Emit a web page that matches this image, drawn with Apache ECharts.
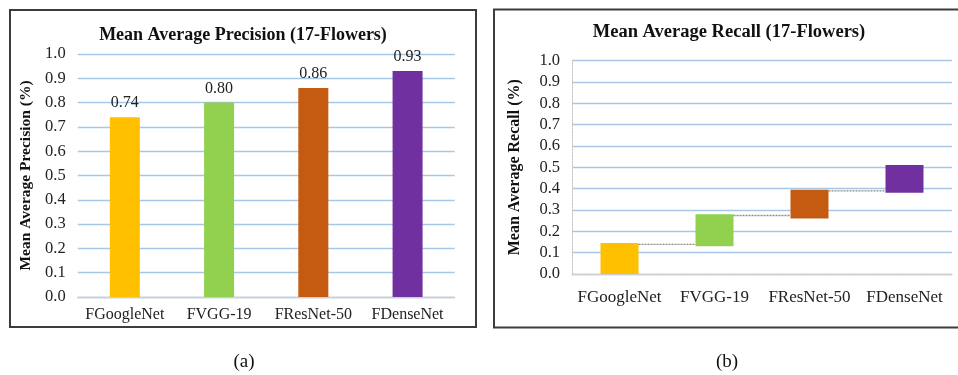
<!DOCTYPE html>
<html>
<head>
<meta charset="utf-8">
<script src="https://cdn.jsdelivr.net/npm/echarts@6/dist/echarts.min.js"></script>
<style>
  html, body { margin: 0; padding: 0; background: #fff; }
  #chart { width: 958px; height: 375px; }
</style>
</head>
<body>
<div id="chart"></div>
<script>
// Model names shared by both panels
const models = ['FGoogleNet', 'FVGG-19', 'FResNet-50', 'FDenseNet'];
const modelColors = ['#FFC000', '#92D050', '#C55A11', '#7030A0'];

// Panel (a): mean average precision per model
const precision = [0.74, 0.80, 0.86, 0.93];

// Panel (b): waterfall of mean average recall (floating base + visible step)
const recallBase = [0.00, 0.13, 0.26, 0.38];
const recallStep = [0.145, 0.15, 0.135, 0.13];

// Shared value-axis ticks
const yTicks = [0.0, 0.1, 0.2, 0.3, 0.4, 0.5, 0.6, 0.7, 0.8, 0.9, 1.0];

const recallTop = recallBase.map((b, i) => +(b + recallStep[i]).toFixed(3));

const SERIF = '"Liberation Serif", "Times New Roman", serif';
const GRID_BLUE = '#a7c7e7';

const chart = echarts.init(document.getElementById('chart'), null, { renderer: 'canvas' });

function valueAxis(gridIndex, name, nameGap, nameSize, labelSize, showAxisLine) {
  return {
    type: 'value',
    gridIndex: gridIndex,
    min: yTicks[0],
    max: yTicks[yTicks.length - 1],
    interval: 0.1,
    name: name,
    nameLocation: 'middle',
    nameGap: nameGap,
    nameTextStyle: { fontFamily: SERIF, fontWeight: 'bold', fontSize: nameSize, color: '#111' },
    axisLine: { show: showAxisLine, lineStyle: { color: '#c8c8c8', type: [2, 1], width: 1 } },
    axisTick: { show: false },
    axisLabel: {
      fontFamily: SERIF, fontSize: labelSize, color: '#222', margin: 12,
      formatter: v => v.toFixed(1)
    },
    splitLine: { show: true, lineStyle: { color: GRID_BLUE, width: 1.3 } }
  };
}

function categoryAxis(gridIndex, labelSize, margin, dashed) {
  return {
    type: 'category',
    gridIndex: gridIndex,
    data: models,
    axisLine: { show: true, lineStyle: { color: '#cfcfcf', width: 1.3, type: dashed ? [2, 1] : 'solid' } },
    axisTick: { show: false },
    axisLabel: { interval: 0, fontFamily: SERIF, fontSize: labelSize, color: '#222', margin: margin }
  };
}

const option = {
  animation: false,
  backgroundColor: '#fff',
  grid: [
    { left: 77.7, right: 503.3, top: 54, bottom: 78, containLabel: false },
    { left: 572, right: 6, top: 60.5, bottom: 101, containLabel: false }
  ],
  xAxis: [
    categoryAxis(0, 16, 10, false),
    categoryAxis(1, 17, 15, true)
  ],
  yAxis: [
    valueAxis(0, 'Mean Average Precision (%)', 44, 15.5, 16.5, false),
    valueAxis(1, 'Mean Average Recall (%)', 49, 16, 16.5, true)
  ],
  series: [
    {
      name: 'Mean Average Precision',
      type: 'bar',
      xAxisIndex: 0, yAxisIndex: 0,
      barWidth: 30,
      data: precision.map((v, i) => ({ value: v, itemStyle: { color: modelColors[i] } })),
      label: {
        show: true, position: 'top', distance: 6,
        fontFamily: SERIF, fontSize: 16, color: '#222',
        formatter: p => p.value.toFixed(2)
      },
      z: 3
    },
    {
      name: 'base',
      type: 'bar',
      stack: 'recall',
      xAxisIndex: 1, yAxisIndex: 1,
      barWidth: 38,
      itemStyle: { color: 'transparent' },
      data: recallBase,
      silent: true,
      z: 3
    },
    {
      name: 'Mean Average Recall',
      type: 'bar',
      stack: 'recall',
      xAxisIndex: 1, yAxisIndex: 1,
      barWidth: 38,
      data: recallStep.map((v, i) => ({ value: v, itemStyle: { color: modelColors[i] } })),
      z: 3
    },
    {
      // connector lines linking the top of each step to the next step
      name: 'connectors',
      type: 'custom',
      xAxisIndex: 1, yAxisIndex: 1,
      data: recallTop.slice(0, -1).map((v, i) => [i, v - 0.006]),
      renderItem: function (params, api) {
        const i = api.value(0);
        const v = api.value(1);
        const a = api.coord([i, v]);
        const b = api.coord([i + 1, v]);
        const half = 19;
        return {
          type: 'line',
          shape: { x1: a[0] + half, y1: a[1], x2: b[0] - half, y2: b[1] },
          style: { stroke: '#8a8a8a', lineWidth: 1.3, lineDash: [2, 1] }
        };
      },
      z: 2
    }
  ],
  graphic: [
    // panel frames
    {
      type: 'rect', z: 100, silent: true,
      shape: { x: 10, y: 10, width: 466, height: 317 },
      style: { fill: 'none', stroke: '#3c3c3c', lineWidth: 2 }
    },
    {
      type: 'rect', z: 100, silent: true,
      shape: { x: 494, y: 9.5, width: 480, height: 318 },
      style: { fill: 'none', stroke: '#3c3c3c', lineWidth: 2 }
    },
    // panel titles
    {
      type: 'text', x: 243, y: 35, z: 100,
      style: {
        text: 'Mean Average Precision (17-Flowers)',
        font: 'bold 18px ' + SERIF, fill: '#111', align: 'center', verticalAlign: 'middle'
      }
    },
    {
      type: 'text', x: 729, y: 32, z: 100,
      style: {
        text: 'Mean Average Recall (17-Flowers)',
        font: 'bold 18.5px ' + SERIF, fill: '#111', align: 'center', verticalAlign: 'middle'
      }
    },
    // sub-figure captions
    {
      type: 'text', x: 244, y: 362, z: 100,
      style: { text: '(a)', font: '19px ' + SERIF, fill: '#111', align: 'center', verticalAlign: 'middle' }
    },
    {
      type: 'text', x: 727, y: 362, z: 100,
      style: { text: '(b)', font: '19px ' + SERIF, fill: '#111', align: 'center', verticalAlign: 'middle' }
    }
  ]
};

chart.setOption(option);
</script>
</body>
</html>
